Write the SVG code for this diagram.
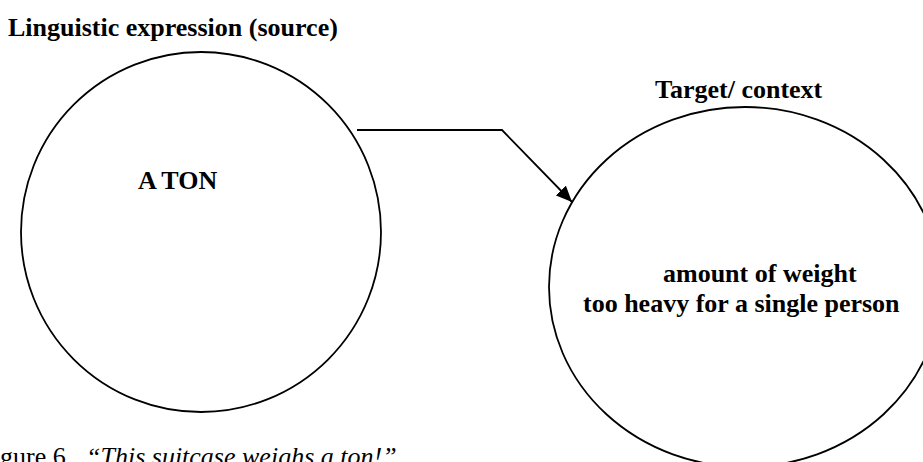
<svg xmlns="http://www.w3.org/2000/svg" width="923" height="462" viewBox="0 0 923 462">
<style>
.node{fill:none;stroke:#000;stroke-width:1.8}
.b{font-family:"Liberation Serif","Times New Roman",serif;font-weight:bold;font-size:26px;fill:#000}
.cap{font-family:"Liberation Serif","Times New Roman",serif;font-size:26px;fill:#000}
.conn{fill:none;stroke:#000;stroke-width:1.8}
</style>
<defs>
<marker id="ah" markerUnits="userSpaceOnUse" markerWidth="18" markerHeight="14" refX="16" refY="7" orient="auto">
<path d="M0,0 L16,7 L0,14 z" fill="#000"/>
</marker>
</defs>
<rect width="923" height="462" fill="#fff"/>
<text class="b" x="8" y="36">Linguistic expression (source)</text>
<g id="source">
<circle class="node" cx="201" cy="232" r="180"/>
<text class="b" x="138" y="189">A TON</text>
</g>
<g id="target">
<text class="b" x="655" y="98">Target/ context</text>
<ellipse class="node" cx="745" cy="287" rx="196" ry="180"/>
<text class="b" x="663" y="282">amount of weight</text>
<text class="b" x="583" y="312">too heavy for a single person</text>
</g>
<g id="connectors">
<polyline class="conn" points="357,130 502,130 572,202" marker-end="url(#ah)"/>
</g>
<text class="cap" x="0" y="465">gure 6. <tspan x="86" font-style="italic">“This suitcase weighs a ton!”</tspan></text>
</svg>
